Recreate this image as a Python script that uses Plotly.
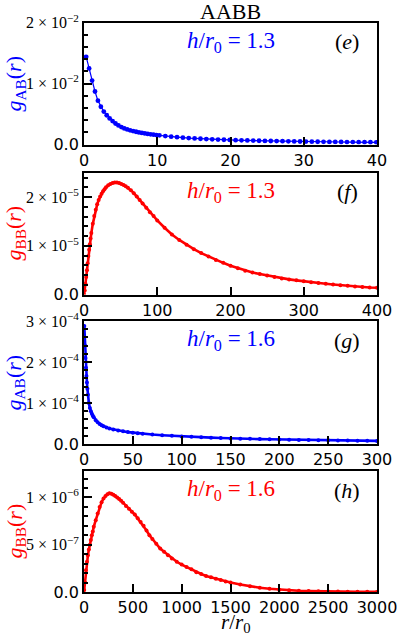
import plotly.graph_objects as go

W, H = 399, 636

# ---- data -------------------------------------------------------------
# (e) g_AB, h/r0 = 1.3
r_e = [0.3, 0.7, 1.1, 1.5, 1.9, 2.3, 2.7, 3.1, 3.5, 3.9, 4.3, 4.7, 5.1, 5.5, 5.9,
       6.3, 6.7, 7.1, 7.5, 7.9, 8.3, 8.7, 9.1, 9.5, 9.9, 10.3,
       11.1, 11.9, 12.7, 13.5, 14.3, 15.1, 15.9, 16.7, 17.5, 18.3, 19.1, 19.9,
       20.7, 21.5, 22.3, 23.1, 23.9, 24.7, 25.5, 26.3, 27.1, 27.9, 28.7, 29.5,
       30.3, 31.1, 31.9, 32.7, 33.5, 34.3, 35.1, 35.9, 36.7, 37.5, 38.3, 39.1, 39.9]
g_e = [0.0144, 0.0125, 0.0105, 0.0087, 0.0072, 0.0062, 0.0054, 0.0048, 0.00428,
       0.00384, 0.00345, 0.00313, 0.00286, 0.00264, 0.00247, 0.00233, 0.00221,
       0.00209, 0.00199, 0.00190, 0.00182, 0.00174, 0.00167, 0.00161, 0.00155, 0.00150,
       0.00138, 0.00128, 0.00120, 0.00112, 0.00105, 0.000997, 0.000944, 0.000896,
       0.000853, 0.000815, 0.000779, 0.000746, 0.000715, 0.000688, 0.000662, 0.000638,
       0.000615, 0.000594, 0.000575, 0.000556, 0.000539, 0.000523, 0.000508, 0.000493,
       0.000479, 0.000466, 0.000454, 0.000442, 0.000431, 0.000421, 0.000411, 0.000401,
       0.000392, 0.000383, 0.000375, 0.000367, 0.000359]

# (f) g_BB, h/r0 = 1.3   (values in units of 1e-5)
r_f = [0, 1, 2, 3, 4, 5, 6, 7, 8, 9, 10, 12, 14, 16, 18, 20, 22, 24, 26, 28, 30,
       33, 36, 39, 42, 45, 48, 51, 54, 57, 60, 64, 68, 72, 76, 80, 85, 90, 95, 100,
       110, 120, 130, 140, 150, 160, 170, 180, 190, 200, 210, 220, 230, 240, 250,
       260, 270, 280, 290, 300, 310, 320, 330, 340, 350, 360, 370, 380, 390, 400]
g_f_1e5 = [0.0, 0.08, 0.22, 0.36, 0.50, 0.64, 0.79, 0.92, 1.03, 1.15, 1.26,
           1.45, 1.61, 1.74, 1.85, 1.94, 2.01, 2.07, 2.12, 2.16, 2.20,
           2.24, 2.27, 2.29, 2.30, 2.30, 2.29, 2.27, 2.25, 2.22, 2.19,
           2.14, 2.08, 2.01, 1.94, 1.87, 1.78, 1.69, 1.61, 1.52,
           1.37, 1.23, 1.12, 1.02, 0.93, 0.85, 0.78, 0.71, 0.65, 0.59,
           0.54, 0.49, 0.45, 0.42, 0.39, 0.36, 0.33, 0.31, 0.29, 0.27,
           0.25, 0.235, 0.22, 0.205, 0.19, 0.18, 0.165, 0.155, 0.145, 0.14]

# (g) g_AB, h/r0 = 1.6   (values in units of 1e-4)
r_g = [0.3, 1, 1.5, 2, 2.5, 3, 3.5, 4, 5, 6, 7, 8, 9, 10, 12, 14, 16, 18, 20, 23, 26,
       30, 35, 40, 45, 50, 55, 60, 70, 80, 90, 100, 110, 120, 130, 140, 150, 160,
       170, 180, 190, 200, 210, 220, 230, 240, 250, 260, 270, 280, 290, 300]
g_g_1e4 = [2.88, 2.40, 2.10, 1.86, 1.66, 1.50, 1.35, 1.20, 1.0, 0.88, 0.80, 0.74,
           0.69, 0.65, 0.58, 0.53, 0.49, 0.46, 0.435, 0.405, 0.38, 0.355, 0.33, 0.31,
           0.29, 0.275, 0.26, 0.25, 0.23, 0.215, 0.20, 0.185, 0.175, 0.165, 0.155,
           0.145, 0.135, 0.13, 0.125, 0.12, 0.115, 0.11, 0.105, 0.10, 0.097, 0.094,
           0.09, 0.087, 0.084, 0.081, 0.078, 0.075]

# (h) g_BB, h/r0 = 1.6   (values in units of 1e-7)
r_h = [2, 10, 20, 30, 40, 50, 60, 70, 80, 90, 100, 120, 140, 160, 180, 200, 220, 240,
       260, 280, 300, 320, 340, 360, 380, 400, 430, 460, 490, 520, 550, 580, 610,
       640, 670, 700, 740, 780, 820, 860, 900, 950, 1000, 1050, 1100, 1150, 1200,
       1250, 1300, 1350, 1400, 1450, 1500, 1600, 1700, 1800, 1900, 2000, 2100,
       2200, 2300, 2400, 2500, 2600, 2700, 2800, 2900, 3000]
g_h_1e7 = [0.2, 1.0, 2.3, 3.2, 3.9, 4.5, 5.0, 5.5, 6.0, 6.4, 6.9, 7.6, 8.3, 9.0, 9.5,
           9.9, 10.15, 10.35, 10.45, 10.4, 10.3, 10.15, 10.0, 9.85, 9.65, 9.45, 9.1,
           8.8, 8.5, 8.2, 7.8, 7.4, 7.0, 6.5, 6.0, 5.6, 5.1, 4.6, 4.25, 3.9, 3.55,
           3.2, 2.9, 2.65, 2.4, 2.1, 1.9, 1.7, 1.55, 1.4, 1.27, 1.12, 1.0, 0.8, 0.6,
           0.45, 0.34, 0.25, 0.18, 0.13, 0.1, 0.07, 0.05, 0.04, 0.03, 0.02, 0.015, 0.01]

g_f = [v * 1e-5 for v in g_f_1e5]
g_g = [v * 1e-4 for v in g_g_1e4]
g_h = [v * 1e-7 for v in g_h_1e7]

x_ranges = [[0, 40], [0, 400], [0, 300], [0, 3000]]
x_dticks = [10, 100, 50, 500]
y_ranges = [[0, 0.02], [0, 2.5e-5], [0, 3e-4], [0, 1.28e-6]]
y_ticks = [[0, 0.01, 0.02], [0, 1e-5, 2e-5], [0, 1e-4, 2e-4, 3e-4], [0, 5e-7, 1e-6]]
y_ticktext = [["1", "2"], ["1", "2"], ["1", "2", "3"], ["5", "1"]]
y_exps = [["2", "2"], ["5", "5"], ["4", "4", "4"], ["7", "6"]]
y_minor = [0.002, 2e-6, 2e-5, 1e-7]
h_labels = ["1.3", "1.3", "1.6", "1.6"]
panel_tags = ["e", "f", "g", "h"]
sub_labels = ["AB", "BB", "AB", "BB"]

# ---- layout helpers (pixel -> paper) -----------------------------------
def px(x):
    return x / W

def py(y):
    return 1 - y / H

x_left, x_right = 84, 377
boxes = [(22.7, 144.5), (172.7, 294.5), (321, 444), (471, 592)]
colors = ["#0000ff", "#ff0000", "#0000ff", "#ff0000"]
serif = "Liberation Serif"
sans = "DejaVu Sans"

fig = go.Figure()

data = [(r_e, g_e), (r_f, g_f), (r_g, g_g), (r_h, g_h)]
for i, (rr, gg) in enumerate(data):
    n = "" if i == 0 else str(i + 1)
    fig.add_trace(go.Scatter(
        x=rr, y=gg, mode="lines+markers",
        xaxis="x" + n, yaxis="y" + n,
        line=dict(color=colors[i], width=1.2 if i == 0 else 2.6),
        marker=dict(color=colors[i], size=4.8 if i == 0 else 4),
        showlegend=False, hoverinfo="skip"))

annotations = []
for i in range(4):
    n = "" if i == 0 else str(i + 1)
    top, bot = boxes[i]
    ticktext = ['<span style="font-family:DejaVu Sans;font-size:16px">0.0</span>']
    for t, e in zip(y_ticktext[i], y_exps[i]):
        ticktext.append(t + " × 10<sup>−" + e + "</sup>")
    fig.layout["xaxis" + n] = dict(
        domain=[px(x_left), px(x_right)], anchor="y" + n, automargin=False,
        range=x_ranges[i], tickmode="linear", tick0=0, dtick=x_dticks[i],
        ticks="inside", ticklen=8, tickwidth=1.5, tickcolor="black",
        showline=True, linecolor="black", linewidth=1.8, mirror=True,
        showgrid=False, zeroline=False, tickangle=0,
        tickfont=dict(family=sans, size=16, color="black"))
    fig.layout["yaxis" + n] = dict(
        domain=[py(bot), py(top)], anchor="x" + n, automargin=False,
        range=y_ranges[i], tickmode="array", tickvals=y_ticks[i], ticktext=ticktext,
        ticks="inside", ticklen=8, tickwidth=1.5, tickcolor="black",
        minor=dict(ticks="inside", ticklen=4.5, tickwidth=1.5, tickcolor="black",
                   tickmode="linear", tick0=0, dtick=y_minor[i], showgrid=False),
        showline=True, linecolor="black", linewidth=1.8, mirror=True,
        showgrid=False, zeroline=False,
        tickfont=dict(family=serif, size=16, color="black"))

    # y axis title
    annotations.append(dict(
        text="<i>g</i><sub>" + sub_labels[i] + "</sub>(<i>r</i>)",
        x=px(15), y=py((top + bot) / 2), xref="paper", yref="paper",
        textangle=-90, showarrow=False, xanchor="center", yanchor="middle",
        font=dict(family=serif, size=22, color=colors[i])))
    # h/r0 label
    annotations.append(dict(
        text="<i>h</i>/<i>r</i><sub>0</sub> = " + h_labels[i],
        x=px(231), y=py(top + 19), xref="paper", yref="paper",
        showarrow=False, xanchor="center", yanchor="middle",
        font=dict(family=serif, size=23, color=colors[i])))
    # panel tag
    annotations.append(dict(
        text="(<i>" + panel_tags[i] + "</i>)",
        x=px(347), y=py(top + 19), xref="paper", yref="paper",
        showarrow=False, xanchor="center", yanchor="middle",
        font=dict(family=serif, size=22, color="black")))

annotations.append(dict(
    text="AABB", x=px(230), y=py(12), xref="paper", yref="paper",
    showarrow=False, xanchor="center", yanchor="middle",
    font=dict(family=serif, size=22, color="black")))
annotations.append(dict(
    text="<i>r</i>/<i>r</i><sub>0</sub>", x=px(236), y=py(623), xref="paper", yref="paper",
    showarrow=False, xanchor="center", yanchor="middle",
    font=dict(family=serif, size=21, color="black")))

fig.update_layout(
    width=W, height=H, autosize=False,
    margin=dict(l=0, r=0, t=0, b=0, autoexpand=False),
    paper_bgcolor="white", plot_bgcolor="white",
    annotations=annotations)

# the page's default body margin would shift the figure by 8px
fig.write_html("out.html", config={"displayModeBar": False},
               post_script="document.body.style.margin = '0';")
